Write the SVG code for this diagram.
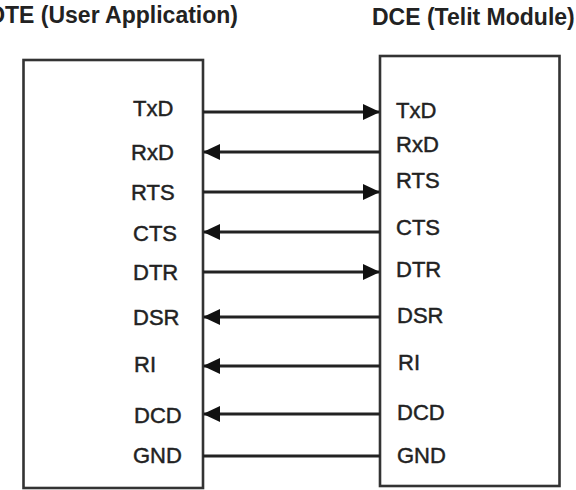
<svg xmlns="http://www.w3.org/2000/svg" width="576" height="490" viewBox="0 0 576 490">
<style>
.box{fill:#ffffff;stroke:#333333;stroke-width:2.6}
.title{font-family:"Liberation Sans",Arial,sans-serif;font-size:23px;font-weight:bold;fill:#222222}
.lbl{font-family:"Liberation Sans",Arial,sans-serif;font-size:22px;fill:#222222;stroke:#222222;stroke-width:0.45}
.wire{stroke:#222222;stroke-width:3;fill:none}
.arr{marker-end:url(#head)}
</style>
<defs>
<marker id="head" viewBox="0 0 17 16" refX="16" refY="8" markerWidth="17" markerHeight="16" markerUnits="userSpaceOnUse" orient="auto">
<path d="M0,0 L17,8 L0,16 Z" fill="#111111"/>
</marker>
</defs>
<rect width="576" height="490" fill="#ffffff"/>
<text class="title" x="238" y="23" text-anchor="end">DTE (User Application)</text>
<text class="title" x="372" y="25">DCE (Telit Module)</text>
<g id="dte">
<rect class="box" x="23.5" y="60" width="179.5" height="428"/>
<text class="lbl" x="133" y="116">TxD</text>
<text class="lbl" x="131" y="160">RxD</text>
<text class="lbl" x="131" y="200">RTS</text>
<text class="lbl" x="133" y="241">CTS</text>
<text class="lbl" x="133" y="280">DTR</text>
<text class="lbl" x="133" y="325">DSR</text>
<text class="lbl" x="134" y="372">RI</text>
<text class="lbl" x="134" y="423">DCD</text>
<text class="lbl" x="133" y="463">GND</text>
</g>
<g id="dce">
<rect class="box" x="380" y="56" width="179.5" height="430"/>
<text class="lbl" x="396" y="118">TxD</text>
<text class="lbl" x="396" y="152">RxD</text>
<text class="lbl" x="396" y="188">RTS</text>
<text class="lbl" x="396" y="235">CTS</text>
<text class="lbl" x="396" y="277">DTR</text>
<text class="lbl" x="397" y="323">DSR</text>
<text class="lbl" x="398" y="370">RI</text>
<text class="lbl" x="397" y="420">DCD</text>
<text class="lbl" x="397" y="463">GND</text>
</g>
<g id="connectors">
<line class="wire arr" x1="203" y1="112" x2="379" y2="112"/>
<line class="wire arr" x1="380" y1="152" x2="204" y2="152"/>
<line class="wire arr" x1="203" y1="192" x2="379" y2="192"/>
<line class="wire arr" x1="380" y1="232" x2="204" y2="232"/>
<line class="wire arr" x1="203" y1="272" x2="379" y2="272"/>
<line class="wire arr" x1="380" y1="317" x2="204" y2="317"/>
<line class="wire arr" x1="380" y1="366" x2="204" y2="366"/>
<line class="wire arr" x1="380" y1="414" x2="204" y2="414"/>
<line class="wire" x1="203" y1="456" x2="380" y2="456"/>
</g>
</svg>
